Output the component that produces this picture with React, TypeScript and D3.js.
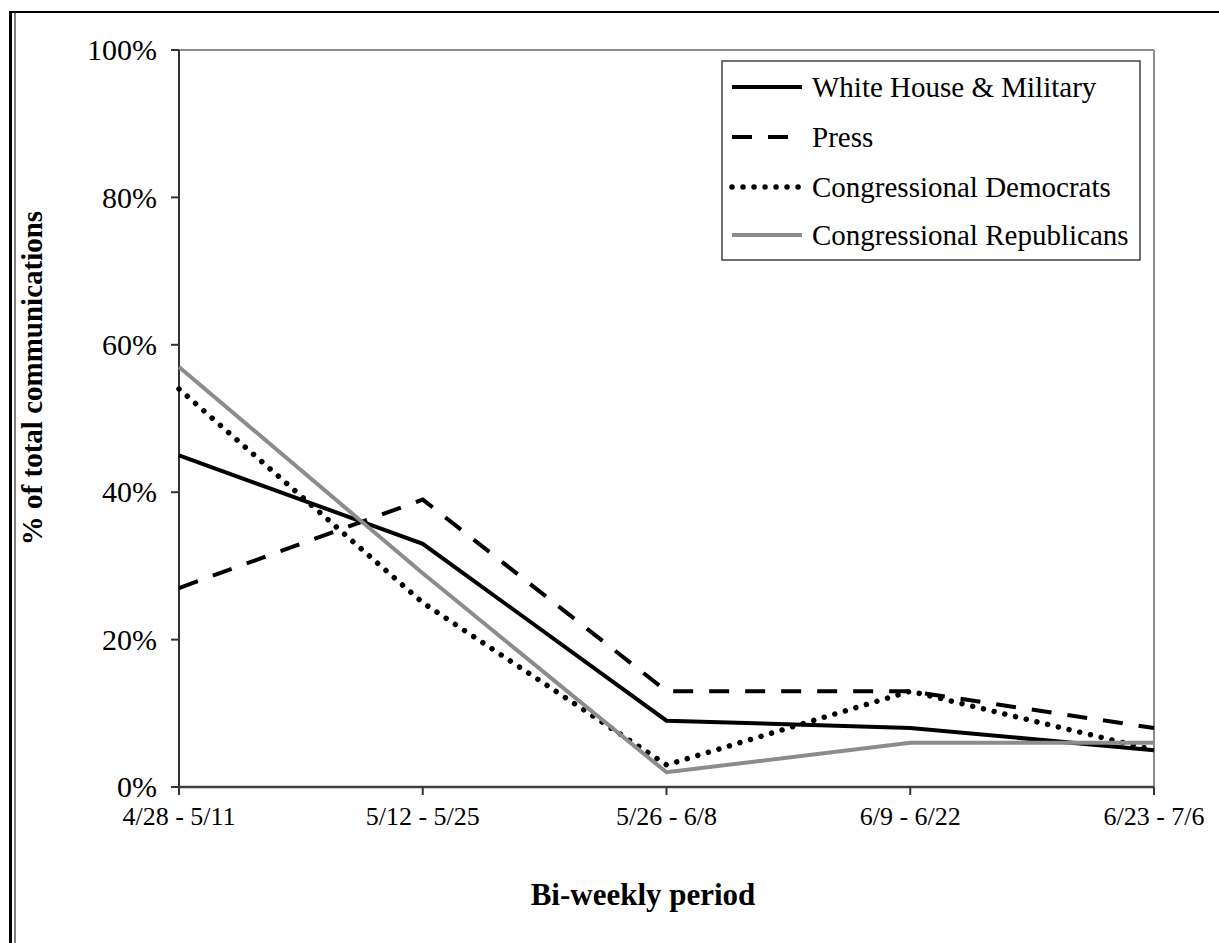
import React from "react";
import * as d3 from "d3";

const periods = ["4/28 - 5/11", "5/12 - 5/25", "5/26 - 6/8", "6/9 - 6/22", "6/23 - 7/6"];
const whiteHouse = [45, 33, 9, 8, 5];
const press = [27, 39, 13, 13, 8];
const democrats = [54, 25, 3, 13, 5];
const republicans = [57, 29, 2, 6, 6];
const yTicks = [0, 20, 40, 60, 80, 100];
const seriesNames = ["White House & Military", "Press", "Congressional Democrats", "Congressional Republicans"];

const W = 1219;
const H = 943;
const left = 179, right = 1154, top = 50, bottom = 787;
const FONT = "'Liberation Serif', 'Times New Roman', serif";

const styles = [
  { stroke: "#000", width: 4, dash: undefined as string | undefined, cap: "butt" },
  { stroke: "#000", width: 4, dash: "20 16", cap: "butt" },
  { stroke: "#000", width: 5.5, dash: "0.01 11", cap: "round" },
  { stroke: "#8c8c8c", width: 4, dash: undefined as string | undefined, cap: "butt" },
];

export default function App() {
  const x = d3.scalePoint<string>().domain(periods).range([left, right]);
  const y = d3.scaleLinear().domain([0, 100]).range([bottom, top]);
  const data = [whiteHouse, press, democrats, republicans];
  const line = d3
    .line<number>()
    .x((_, i) => x(periods[i]) as number)
    .y((d) => y(d));

  const legendX = 722, legendY = 61, legendW = 418, legendH = 199;
  const rowY = [87, 137, 187, 235];

  return (
    <svg width={W} height={H} style={{ position: "absolute", left: 0, top: 0, background: "#fff" }} fontFamily={FONT}>
      <rect x={0} y={0} width={W} height={H} fill="#fff" />
      {/* outer frame */}
      <line x1={10.5} y1={11} x2={10.5} y2={H} stroke="#000" strokeWidth={3} />
      <line x1={15} y1={13} x2={15} y2={H} stroke="#808080" strokeWidth={2} />
      <line x1={9} y1={12} x2={W} y2={12} stroke="#000" strokeWidth={2} />

      {/* plot border top and right */}
      <line x1={left} y1={top} x2={right} y2={top} stroke="#8c8c8c" strokeWidth={2} />
      <line x1={right} y1={top} x2={right} y2={bottom} stroke="#8c8c8c" strokeWidth={2} />

      {/* axes */}
      <line x1={left} y1={top} x2={left} y2={bottom + 7} stroke="#333" strokeWidth={2} />
      <line x1={left} y1={bottom} x2={right} y2={bottom} stroke="#404040" strokeWidth={2.5} />
      {yTicks.map((t) => (
        <g key={t}>
          <line x1={left - 8} y1={y(t)} x2={left} y2={y(t)} stroke="#333" strokeWidth={2} />
          <text x={157} y={y(t)} dy="0.34em" textAnchor="end" fontSize={30} fill="#000">
            {t + "%"}
          </text>
        </g>
      ))}
      {periods.map((p) => (
        <g key={p}>
          <line x1={x(p)} y1={bottom} x2={x(p)} y2={bottom + 8} stroke="#333" strokeWidth={2} />
          <text x={x(p)} y={825} textAnchor="middle" fontSize={26} fill="#000">
            {p}
          </text>
        </g>
      ))}

      {/* series */}
      {data.map((d, i) => (
        <path
          key={i}
          d={line(d) || ""}
          fill="none"
          stroke={styles[i].stroke}
          strokeWidth={styles[i].width}
          strokeDasharray={styles[i].dash}
          strokeLinecap={styles[i].cap as any}
          strokeLinejoin="miter"
        />
      ))}

      {/* legend */}
      <rect x={legendX} y={legendY} width={legendW} height={legendH} fill="#fff" stroke="#404040" strokeWidth={1.5} />
      {seriesNames.map((n, i) => (
        <g key={n}>
          <line
            x1={732}
            y1={rowY[i]}
            x2={802}
            y2={rowY[i]}
            stroke={styles[i].stroke}
            strokeWidth={styles[i].width}
            strokeDasharray={styles[i].dash}
            strokeLinecap={styles[i].cap as any}
          />
          <text x={812} y={rowY[i] + 10} fontSize={29} fill="#000">
            {n}
          </text>
        </g>
      ))}

      {/* axis titles */}
      <text x={643} y={905} textAnchor="middle" fontSize={31} fontWeight="bold" fill="#000">
        Bi-weekly period
      </text>
      <text
        transform={`translate(42, 378) rotate(-90)`}
        textAnchor="middle"
        fontSize={29}
        fontWeight="bold"
        fill="#000"
      >
        % of total communications
      </text>
    </svg>
  );
}
